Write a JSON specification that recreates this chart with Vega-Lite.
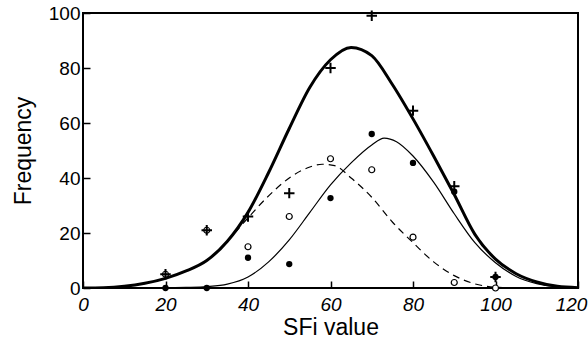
{
  "$schema": "https://vega.github.io/schema/vega-lite/v6.json",
  "width": 495,
  "height": 275,
  "autosize": "none",
  "padding": {"left": 83, "top": 13, "right": 10, "bottom": 54},
  "background": "white",
  "config": {
    "view": {"stroke": "black", "strokeWidth": 2},
    "font": "Liberation Sans",
    "axis": {
      "grid": false,
      "domain": false,
      "ticks": true,
      "tickColor": "black",
      "tickOpacity": 1,
      "tickSize": 7,
      "tickWidth": 1.5,
      "offset": -7,
      "zindex": 1,
      "labelColor": "black",
      "titleColor": "black",
      "labelFont": "Liberation Sans",
      "titleFont": "Liberation Sans",
      "labelFontSize": 19,
      "titleFontSize": 23,
      "titleFontWeight": "normal"
    }
  },
  "datasets": {
    "curves": [
      {"s": "total", "x": 0, "y": 0},
      {"s": "total", "x": 5, "y": 0.1},
      {"s": "total", "x": 10, "y": 0.6},
      {"s": "total", "x": 15, "y": 1.7},
      {"s": "total", "x": 20, "y": 3.5},
      {"s": "total", "x": 25, "y": 6.2},
      {"s": "total", "x": 30, "y": 10},
      {"s": "total", "x": 35, "y": 17},
      {"s": "total", "x": 40, "y": 27.5},
      {"s": "total", "x": 45, "y": 42},
      {"s": "total", "x": 50, "y": 58},
      {"s": "total", "x": 55, "y": 73},
      {"s": "total", "x": 60, "y": 83},
      {"s": "total", "x": 65, "y": 87.5},
      {"s": "total", "x": 70, "y": 84.5},
      {"s": "total", "x": 75, "y": 74},
      {"s": "total", "x": 80, "y": 61.5},
      {"s": "total", "x": 85, "y": 48},
      {"s": "total", "x": 90, "y": 34},
      {"s": "total", "x": 95, "y": 19.5},
      {"s": "total", "x": 100, "y": 10.5},
      {"s": "total", "x": 105, "y": 5.2},
      {"s": "total", "x": 110, "y": 2.2},
      {"s": "total", "x": 115, "y": 0.6},
      {"s": "total", "x": 120, "y": 0.1},
      {"s": "filled", "x": 0, "y": 0},
      {"s": "filled", "x": 10, "y": 0},
      {"s": "filled", "x": 20, "y": 0.05},
      {"s": "filled", "x": 25, "y": 0.2},
      {"s": "filled", "x": 30, "y": 0.5},
      {"s": "filled", "x": 35, "y": 1.4},
      {"s": "filled", "x": 40, "y": 4},
      {"s": "filled", "x": 45, "y": 9.5},
      {"s": "filled", "x": 50, "y": 17.5},
      {"s": "filled", "x": 55, "y": 27.5},
      {"s": "filled", "x": 60, "y": 37.5},
      {"s": "filled", "x": 65, "y": 45.5},
      {"s": "filled", "x": 70, "y": 52},
      {"s": "filled", "x": 73, "y": 54.5},
      {"s": "filled", "x": 76, "y": 53.2},
      {"s": "filled", "x": 80, "y": 48},
      {"s": "filled", "x": 85, "y": 38.5},
      {"s": "filled", "x": 90, "y": 27},
      {"s": "filled", "x": 95, "y": 16.5},
      {"s": "filled", "x": 100, "y": 9.2},
      {"s": "filled", "x": 105, "y": 4.2},
      {"s": "filled", "x": 110, "y": 1.6},
      {"s": "filled", "x": 115, "y": 0.4},
      {"s": "filled", "x": 120, "y": 0.1},
      {"s": "open", "x": 0, "y": 0},
      {"s": "open", "x": 10, "y": 0.6},
      {"s": "open", "x": 20, "y": 3.5},
      {"s": "open", "x": 25, "y": 6.2},
      {"s": "open", "x": 30, "y": 10},
      {"s": "open", "x": 35, "y": 17},
      {"s": "open", "x": 40, "y": 25.5},
      {"s": "open", "x": 45, "y": 33.5},
      {"s": "open", "x": 50, "y": 40},
      {"s": "open", "x": 55, "y": 44},
      {"s": "open", "x": 58, "y": 45},
      {"s": "open", "x": 61, "y": 44.5},
      {"s": "open", "x": 65, "y": 40},
      {"s": "open", "x": 70, "y": 33},
      {"s": "open", "x": 75, "y": 24},
      {"s": "open", "x": 80, "y": 16.5},
      {"s": "open", "x": 85, "y": 9.5},
      {"s": "open", "x": 90, "y": 4.5},
      {"s": "open", "x": 95, "y": 1.5},
      {"s": "open", "x": 100, "y": 0.3},
      {"s": "open", "x": 105, "y": 0},
      {"s": "open", "x": 120, "y": 0}
    ],
    "points": [
      {"g": "total", "x": 20, "y": 5},
      {"g": "total", "x": 30, "y": 21},
      {"g": "total", "x": 40, "y": 26},
      {"g": "total", "x": 50, "y": 34.5},
      {"g": "total", "x": 60, "y": 80},
      {"g": "total", "x": 70, "y": 99},
      {"g": "total", "x": 80, "y": 64.5},
      {"g": "total", "x": 90, "y": 37},
      {"g": "total", "x": 100, "y": 4},
      {"g": "filled", "x": 20, "y": 0},
      {"g": "filled", "x": 30, "y": 0},
      {"g": "filled", "x": 40, "y": 11},
      {"g": "filled", "x": 50, "y": 8.7},
      {"g": "filled", "x": 60, "y": 32.7},
      {"g": "filled", "x": 70, "y": 56},
      {"g": "filled", "x": 80, "y": 45.5},
      {"g": "filled", "x": 90, "y": 35},
      {"g": "filled", "x": 100, "y": 4},
      {"g": "open", "x": 20, "y": 5},
      {"g": "open", "x": 30, "y": 21},
      {"g": "open", "x": 40, "y": 15},
      {"g": "open", "x": 50, "y": 26},
      {"g": "open", "x": 60, "y": 47},
      {"g": "open", "x": 70, "y": 43},
      {"g": "open", "x": 80, "y": 18.5},
      {"g": "open", "x": 90, "y": 2},
      {"g": "open", "x": 100, "y": 0}
    ]
  },
  "encoding": {
    "x": {
      "field": "x",
      "type": "quantitative",
      "scale": {"domain": [0, 120], "nice": false, "zero": false},
      "axis": {
        "title": "SFi value",
        "values": [0, 20, 40, 60, 80, 100, 120],
        "labelFontStyle": "italic",
        "labelPadding": 7,
        "titlePadding": 2,
        "labelFlush": false,
        "labelOffset": {"condition": {"test": "datum.value == 120", "value": -7}, "value": 0}
      }
    },
    "y": {
      "field": "y",
      "type": "quantitative",
      "scale": {"domain": [0, 100], "nice": false},
      "axis": {
        "title": "Frequency",
        "values": [0, 20, 40, 60, 80, 100],
        "labelPadding": 3,
        "titlePadding": 13,
        "labelFlush": false
      }
    }
  },
  "layer": [
    {
      "data": {"name": "curves"},
      "transform": [{"filter": "datum.s === 'open'"}],
      "mark": {"type": "line", "interpolate": "monotone", "color": "black", "strokeWidth": 1.2, "strokeDash": [7, 5], "clip": true}
    },
    {
      "data": {"name": "curves"},
      "transform": [{"filter": "datum.s === 'filled'"}],
      "mark": {"type": "line", "interpolate": "monotone", "color": "black", "strokeWidth": 1.2, "clip": true}
    },
    {
      "data": {"name": "curves"},
      "transform": [{"filter": "datum.s === 'total'"}],
      "mark": {"type": "line", "interpolate": "monotone", "color": "black", "strokeWidth": 3, "clip": true}
    },
    {
      "data": {"name": "points"},
      "transform": [{"filter": "datum.g === 'open'"}],
      "mark": {"type": "point", "shape": "circle", "size": 36, "filled": false, "stroke": "black", "strokeWidth": 1.2, "fill": "white", "fillOpacity": 1, "opacity": 1}
    },
    {
      "data": {"name": "points"},
      "transform": [{"filter": "datum.g === 'filled'"}],
      "mark": {"type": "point", "shape": "circle", "size": 40, "filled": true, "color": "black", "opacity": 1}
    },
    {
      "data": {"name": "points"},
      "transform": [{"filter": "datum.g === 'total'"}],
      "mark": {"type": "point", "shape": "M-1,0L1,0M0,-1L0,1", "size": 110, "filled": false, "stroke": "black", "strokeWidth": 2, "opacity": 1}
    }
  ]
}
